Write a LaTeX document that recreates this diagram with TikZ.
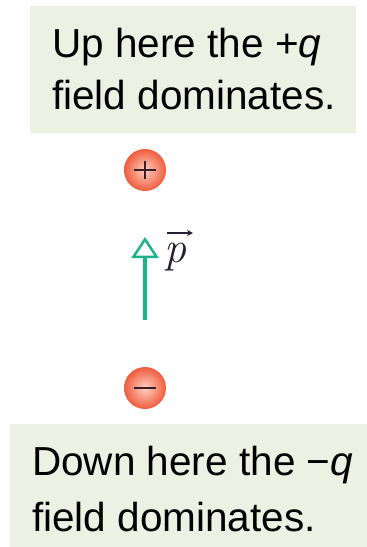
\documentclass[tikz,border=0pt]{standalone}
\usepackage{fontspec}
\setmainfont{Liberation Sans}
\newfontfamily\lmfont{Latin Modern Roman}
\usetikzlibrary{arrows.meta}
\definecolor{boxfill}{RGB}{237,241,227}
\definecolor{dipole}{RGB}{28,178,138}
\definecolor{chargeout}{RGB}{240,92,62}
\definecolor{chargein}{RGB}{255,208,192}
\definecolor{signcol}{RGB}{55,30,40}
\definecolor{pcol}{RGB}{40,30,50}
\tikzset{
  panel/.style={fill=boxfill, draw=none},
  label/.style={anchor=base west, inner sep=0pt, font=\fontsize{40.5}{48}\selectfont},
  charge/.style={circle, minimum size=42pt, inner sep=0pt, shading=radial, inner color=chargein, outer color=chargeout},
  sign/.style={signcol, line width=2.6pt},
  vecarrow/.style={dipole, line width=4.5pt, -{Triangle[open, length=21pt, width=27pt, line width=2.5pt]}},
  accentarrow/.style={pcol, line width=1.5pt, -{Stealth[length=6pt, width=6pt]}},
}
\begin{document}
\begin{tikzpicture}[x=1pt,y=-1pt]
\useasboundingbox (0,0) rectangle (367,547);
\fill[panel] (30,6) rectangle (356,133);
\fill[panel] (10,424) rectangle (367,547);
\node[label] (t1) at (52,57) {Up here the +\textit{q}};
\node[label] (t2) at (52,109) {field dominates.};
\node[label] (b1) at (32,475) {Down here the −\textit{q}};
\node[label] (b2) at (32,531) {field dominates.};
\node[charge] (qp) at (145,170) {};
\draw[sign] ([xshift=-11pt]qp.center) -- ([xshift=11pt]qp.center);
\draw[sign] ([yshift=-9pt]qp.center) -- ([yshift=9pt]qp.center);
\node[charge] (qm) at (145,388) {};
\draw[sign] ([xshift=-11pt]qm.center) -- ([xshift=11pt]qm.center);
\coordinate (pbase) at (145,320);
\coordinate (ptip) at (145,237);
\draw[vecarrow] (pbase) -- (ptip);
\node[anchor=base west, inner sep=0pt, text=pcol, font=\lmfont\itshape\fontsize{44}{44}\selectfont] (plabel) at (164,262) {p};
\coordinate (accL) at (167,233);
\coordinate (accR) at (193,233);
\draw[accentarrow] (accL) -- (accR);
\end{tikzpicture}
\end{document}
